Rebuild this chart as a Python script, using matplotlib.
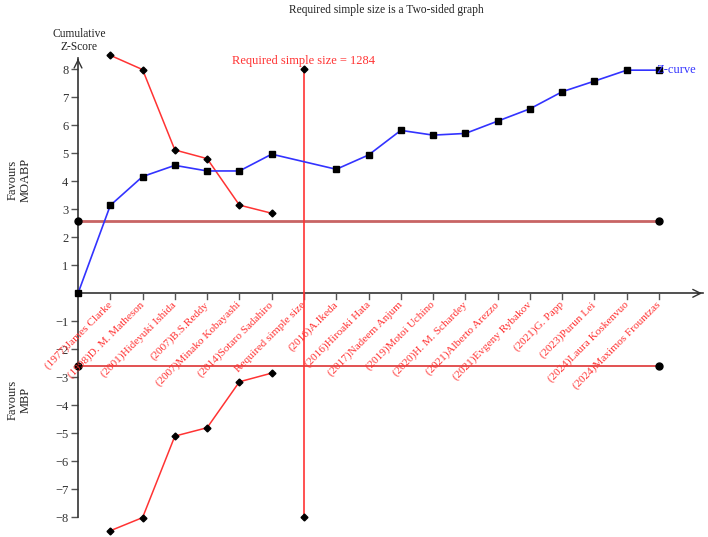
import numpy as np
import matplotlib
matplotlib.use("Agg")
import matplotlib.pyplot as plt

plt.rcParams['font.family'] = ['Liberation Serif', 'DejaVu Serif']

# x-axis labels (index 0 is the origin)
labels = ["(1977)James Clarke", "(1998)D. M. Matheson", "(2001)Hideyuki Ishida",
          "(2007)B.S.Reddy", "(2007)Minako Kobayashi", "(2014)Sotaro Sadahiro",
          "Required simple size", "(2016)A.Ikeda", "(2016)Hiroaki Hata",
          "(2017)Nadeem Anjum", "(2019)Motoi Uchino", "(2020)H. M. Schardey",
          "(2021)Alberto Arezzo", "(2021)Evgeny Rybakov", "(2021)G. Papp",
          "(2023)Purun Lei", "(2024)Laura Koskenvuo", "(2024)Maximos Frountzas"]

# cumulative Z-curve (position 7 = required size, no point there)
z_pos = [0, 1, 2, 3, 4, 5, 6, 8, 9, 10, 11, 12, 13, 14, 15, 16, 17, 18]
z_val = [0, 3.14, 4.17, 4.57, 4.37, 4.37, 4.97, 4.43, 4.94, 5.82, 5.65, 5.71,
         6.15, 6.59, 7.20, 7.58, 7.97, 7.97]

# monitoring boundaries
b_pos = [1, 2, 3, 4, 5, 6]
b_upper = [8.50, 7.99, 5.12, 4.81, 3.15, 2.86]
b_lower = [-8.48, -8.01, -5.10, -4.80, -3.16, -2.85]

z_crit = 2.59
ris_pos = 7
ris_lim = 8
ris_n = 1284
x_end = 18

fig = plt.figure(figsize=(7.08, 5.37), dpi=100)
ax = fig.add_axes([0.1102, 0.0054, 0.8845, 0.902])
ax.set_xlim(0, 19.4)
ax.set_ylim(-8.6, 8.7)
for s in ax.spines.values():
    s.set_visible(False)

# axes with arrows
ax.plot([0, 0], [-8, 8.4], color='#333333', lw=1.2, clip_on=False)
ax.plot([0, 19.35], [0, 0], color='#333333', lw=1.2, clip_on=False)
ax.annotate('', xy=(0, 8.48), xytext=(0, 8.2),
            arrowprops=dict(arrowstyle='->', color='#333333', lw=1.0, mutation_scale=14))
ax.annotate('', xy=(19.42, 0), xytext=(19.1, 0),
            arrowprops=dict(arrowstyle='->', color='#333333', lw=1.0, mutation_scale=14),
            annotation_clip=False)

yt = [v for v in range(-8, 9) if v != 0]
ax.set_yticks(yt)
ax.set_yticklabels([str(v).replace('-', '\u2212') for v in yt], fontsize=9, color='#333333')
ax.tick_params(axis='y', direction='out', length=5, width=1.0, color='#555555', pad=2)
ax.set_xticks([])

# x ticks below axis
xt = np.arange(1, len(labels) + 1)
for x in xt:
    ax.plot([x, x], [0, -0.22], color='#555555', lw=1.0, clip_on=False)
for x, lab in zip(xt, labels):
    ax.text(x - 0.1, -0.24, lab, rotation=45, ha='right', va='top',
            rotation_mode='anchor', fontsize=8.1, color='#ff3333')

# critical lines
ax.plot([0, x_end], [z_crit, z_crit], color='#c86464', lw=2)
ax.plot([0, x_end], [-z_crit, -z_crit], color='#dd3333', lw=1.2)
ax.plot([0, x_end, 0, x_end], [z_crit, z_crit, -z_crit, -z_crit], 'o',
        color='black', ms=5, ls='none', clip_on=False)

# required information size
ax.plot([ris_pos, ris_pos], [-ris_lim, ris_lim], color='#ff3333', lw=1.2)
ax.plot([ris_pos, ris_pos], [-ris_lim, ris_lim], 'D', color='black', ms=3.5, ls='none')
ax.text(ris_pos, ris_lim + 0.08, "Required simple size = %d" % ris_n, ha='center',
        va='bottom', fontsize=9, color='#ff3333')

# boundaries
ax.plot(b_pos, b_upper, color='#ff3333', lw=1.1, marker='D', ms=3.5,
        mfc='black', mec='black', clip_on=False)
ax.plot(b_pos, b_lower, color='#ff3333', lw=1.1, marker='D', ms=3.5,
        mfc='black', mec='black', clip_on=False)

# z-curve
ax.plot(z_pos, z_val, color='#3333ff', lw=1.2, marker='s', ms=4.5,
        mfc='black', mec='black', clip_on=False)
ax.text(z_pos[-1] - 0.08, z_val[-1], "Z-curve", ha='left', va='center',
        fontsize=9, color='#3333ff')

# texts
fig.text(0.545, 0.982, "Required simple size is a Two-sided graph", ha='center',
         va='center', fontsize=8.3, color='#222222')
fig.text(0.112, 0.925, "Cumulative\nZ-Score", ha='center', va='center', fontsize=8.3,
         color='#222222', linespacing=1.1)
fig.text(0.027, 0.665, "Favours\nMOABP", ha='center', va='center', rotation=90,
         fontsize=9, color='#222222', linespacing=1.1)
fig.text(0.027, 0.255, "Favours\nMBP", ha='center', va='center', rotation=90,
         fontsize=9, color='#222222', linespacing=1.1)

fig.savefig("out.png", dpi=100)
